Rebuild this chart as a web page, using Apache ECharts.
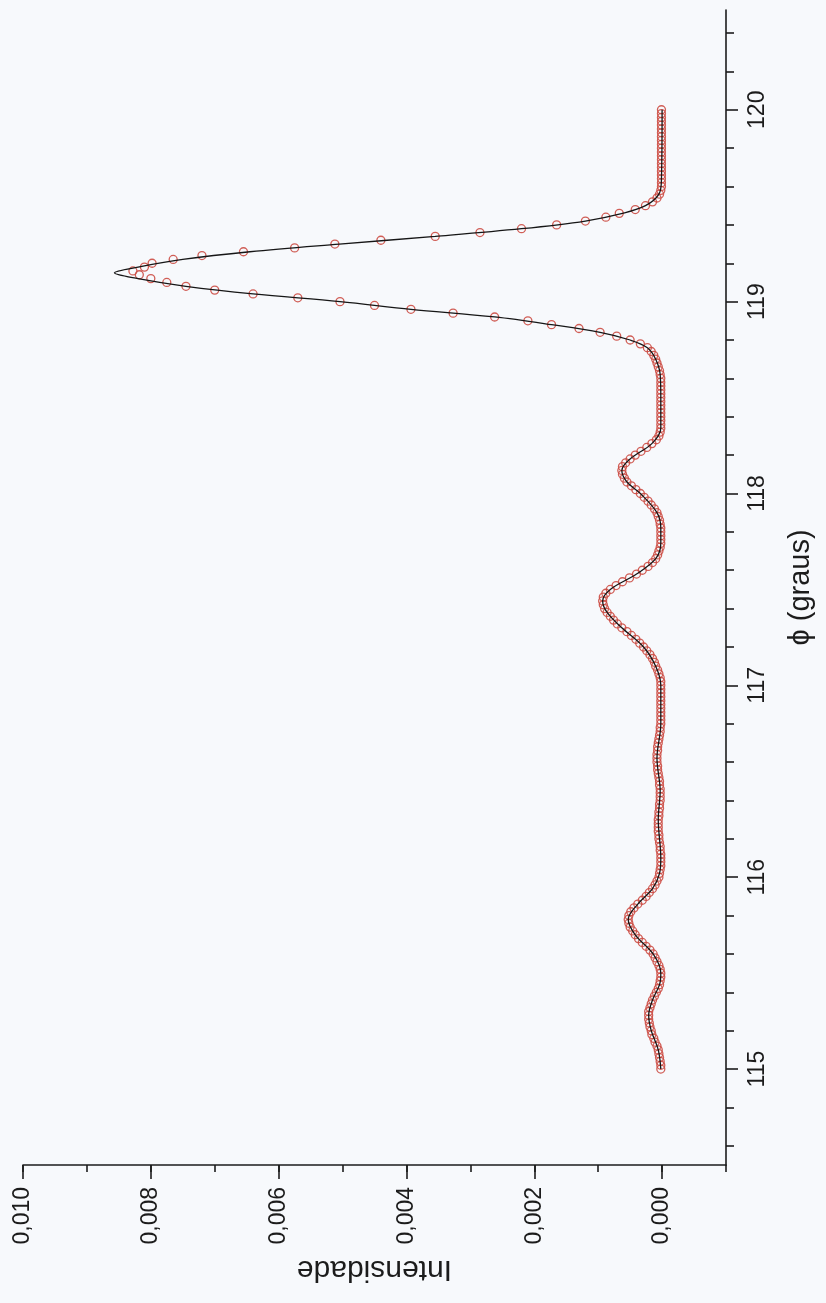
<!DOCTYPE html>
<html>
<head>
<meta charset="utf-8">
<title>Intensidade vs ϕ</title>
<script src="https://cdn.jsdelivr.net/npm/echarts@6/dist/echarts.min.js"></script>
<style>
  html, body { margin: 0; padding: 0; background: #f7f9fc; }
  #chart { width: 826px; height: 1303px; }
</style>
</head>
<body>
<div id="chart"></div>
<script>
// Measured scan: angle ϕ (graus) and intensity, intensities written in units of 1e-3
const obsPhi = [
  115.00,115.02,115.04,115.06,115.08,115.10,115.12,115.14,115.16,115.18,
  115.20,115.22,115.24,115.26,115.28,115.30,115.32,115.34,115.36,115.38,
  115.40,115.42,115.44,115.46,115.48,115.50,115.52,115.54,115.56,115.58,
  115.60,115.62,115.64,115.66,115.68,115.70,115.72,115.74,115.76,115.78,
  115.80,115.82,115.84,115.86,115.88,115.90,115.92,115.94,115.96,115.98,
  116.00,116.02,116.04,116.06,116.08,116.10,116.12,116.14,116.16,116.18,
  116.20,116.22,116.24,116.26,116.28,116.30,116.32,116.34,116.36,116.38,
  116.40,116.42,116.44,116.46,116.48,116.50,116.52,116.54,116.56,116.58,
  116.60,116.62,116.64,116.66,116.68,116.70,116.72,116.74,116.76,116.78,
  116.80,116.82,116.84,116.86,116.88,116.90,116.92,116.94,116.96,116.98,
  117.00,117.02,117.04,117.06,117.08,117.10,117.12,117.14,117.16,117.18,
  117.20,117.22,117.24,117.26,117.28,117.30,117.32,117.34,117.36,117.38,
  117.40,117.42,117.44,117.46,117.48,117.50,117.52,117.54,117.56,117.58,
  117.60,117.62,117.64,117.66,117.68,117.70,117.72,117.74,117.76,117.78,
  117.80,117.82,117.84,117.86,117.88,117.90,117.92,117.94,117.96,117.98,
  118.00,118.02,118.04,118.06,118.08,118.10,118.12,118.14,118.16,118.18,
  118.20,118.22,118.24,118.26,118.28,118.30,118.32,118.34,118.36,118.38,
  118.40,118.42,118.44,118.46,118.48,118.50,118.52,118.54,118.56,118.58,
  118.60,118.62,118.64,118.66,118.68,118.70,118.72,118.74,118.76,118.78,
  118.80,118.82,118.84,118.86,118.88,118.90,118.92,118.94,118.96,118.98,
  119.00,119.02,119.04,119.06,119.08,119.10,119.12,119.14,119.16,119.18,
  119.20,119.22,119.24,119.26,119.28,119.30,119.32,119.34,119.36,119.38,
  119.40,119.42,119.44,119.46,119.48,119.50,119.52,119.54,119.56,119.58,
  119.60,119.62,119.64,119.66,119.68,119.70,119.72,119.74,119.76,119.78,
  119.80,119.82,119.84,119.86,119.88,119.90,119.92,119.94,119.96,119.98,
  120.00
];
const obsIntensityE3 = [
  0.02,0.02,0.03,0.04,0.05,0.06,0.08,0.11,0.13,0.16,
  0.17,0.19,0.20,0.21,0.21,0.21,0.19,0.17,0.15,0.12,
  0.09,0.06,0.04,0.03,0.02,0.02,0.03,0.05,0.08,0.11,
  0.14,0.19,0.25,0.31,0.37,0.42,0.46,0.50,0.52,0.53,
  0.52,0.49,0.44,0.38,0.31,0.25,0.20,0.15,0.11,0.08,
  0.05,0.04,0.03,0.02,0.02,0.02,0.02,0.03,0.03,0.04,
  0.05,0.05,0.06,0.06,0.06,0.06,0.05,0.05,0.04,0.04,
  0.03,0.03,0.03,0.03,0.04,0.04,0.05,0.06,0.07,0.07,
  0.08,0.08,0.08,0.07,0.07,0.06,0.05,0.04,0.03,0.03,
  0.02,0.02,0.02,0.02,0.02,0.02,0.02,0.02,0.02,0.02,
  0.02,0.02,0.03,0.05,0.07,0.10,0.12,0.15,0.19,0.24,
  0.29,0.35,0.41,0.48,0.55,0.63,0.70,0.76,0.81,0.86,
  0.90,0.92,0.93,0.92,0.88,0.81,0.72,0.62,0.51,0.40,
  0.31,0.22,0.15,0.10,0.07,0.05,0.03,0.02,0.02,0.02,
  0.02,0.02,0.03,0.04,0.06,0.08,0.12,0.17,0.22,0.28,
  0.34,0.41,0.48,0.55,0.59,0.62,0.63,0.62,0.57,0.50,
  0.42,0.33,0.24,0.16,0.09,0.05,0.03,0.02,0.02,0.02,
  0.02,0.02,0.02,0.02,0.02,0.02,0.02,0.02,0.02,0.02,
  0.02,0.03,0.04,0.06,0.08,0.10,0.13,0.17,0.23,0.34,
  0.50,0.71,0.97,1.30,1.73,2.10,2.62,3.27,3.93,4.50,
  5.04,5.70,6.40,7.00,7.45,7.75,8.00,8.18,8.28,8.10,
  7.98,7.65,7.20,6.55,5.75,5.12,4.40,3.55,2.85,2.20,
  1.65,1.20,0.88,0.67,0.42,0.26,0.15,0.08,0.04,0.02,
  0.01,0.01,0.01,0.01,0.01,0.01,0.01,0.01,0.01,0.01,
  0.01,0.01,0.01,0.01,0.01,0.01,0.01,0.01,0.01,0.01,
  0.01
];

// Fitted curve (ϕ, intensity in units of 1e-3)
const fitPhi = [
  115.00,115.10,115.20,115.28,115.36,115.44,115.50,115.60,115.70,115.78,
  115.86,115.94,116.02,116.10,116.30,116.45,116.62,116.80,117.00,117.10,
  117.20,117.30,117.38,117.44,117.50,117.58,117.66,117.74,117.82,117.90,
  118.00,118.06,118.12,118.18,118.26,118.34,118.50,118.62,118.70,118.76,
  118.80,118.84,118.88,118.92,118.96,119.00,119.04,119.08,119.12,119.15,
  119.18,119.22,119.26,119.30,119.34,119.38,119.42,119.46,119.50,119.56,
  119.64,120.00
];
const fitIntensityE3 = [
  0.02,0.06,0.17,0.21,0.15,0.04,0.02,0.14,0.42,0.53,
  0.38,0.15,0.04,0.02,0.06,0.03,0.08,0.02,0.02,0.10,
  0.29,0.63,0.86,0.93,0.81,0.40,0.10,0.02,0.02,0.08,
  0.34,0.55,0.63,0.50,0.16,0.02,0.02,0.03,0.10,0.23,
  0.50,0.97,1.73,2.62,3.93,5.04,6.40,7.45,8.20,8.57,
  8.20,7.50,6.45,5.05,3.55,2.20,1.20,0.62,0.26,0.05,
  0.01,0.00
];

// Axis ticks
const intensityTickLabels = [0, 0.002, 0.004, 0.006, 0.008, 0.010];
const phiTickLabels = [115, 116, 117, 118, 119, 120];
const phiMinorTicks = [];
for (let v = 114.6; v < 120.45; v += 0.2) {
  const r = Math.round(v * 10) / 10;
  if (Math.abs(r - Math.round(r)) > 1e-6) phiMinorTicks.push(r);
}

const E3 = 1e-3;
const obsData = obsPhi.map((p, i) => [obsIntensityE3[i] * E3, p]);
const fitData = fitPhi.map((p, i) => [fitIntensityE3[i] * E3, p]);

const FONT = '"Liberation Sans", Arial, sans-serif';
const INK = '#1c1c1c';
const fmtIntensity = v => Number(v).toFixed(3).replace('.', ',');

const chart = echarts.init(document.getElementById('chart'), null, { renderer: 'canvas' });
chart.setOption({
  backgroundColor: '#f7f9fc',
  animation: false,
  grid: { left: 23, right: 100, top: 10, bottom: 138, containLabel: false, outerBoundsMode: 'none' },
  xAxis: [
    {
      type: 'value', min: -0.001, max: 0.010, interval: 0.001, inverse: true,
      position: 'bottom', offset: 0,
      axisLine: { show: true, onZero: false, lineStyle: { color: INK, width: 1.6 } },
      axisTick: { show: true, inside: false, length: 7, lineStyle: { color: INK, width: 1.6 } },
      axisLabel: { show: false },
      splitLine: { show: false },
      name: 'Intensidade', nameLocation: 'middle', nameGap: 89, nameRotate: 180,
      nameTextStyle: { fontFamily: FONT, fontSize: 30, color: INK }
    },
    {
      type: 'value', min: -0.001, max: 0.010, inverse: true,
      position: 'bottom', offset: 0,
      axisLine: { show: false, onZero: false },
      axisTick: { show: true, inside: false, length: 14, customValues: intensityTickLabels,
                  lineStyle: { color: INK, width: 1.6 } },
      axisLabel: { show: true, rotate: 90, margin: 22, customValues: intensityTickLabels,
                   formatter: fmtIntensity, fontFamily: FONT, fontSize: 23, color: INK },
      splitLine: { show: false }
    }
  ],
  yAxis: [
    {
      type: 'value', min: 114.5, max: 120.52, position: 'right', offset: 0,
      axisLine: { show: true, onZero: false, lineStyle: { color: INK, width: 1.6 } },
      axisTick: { show: true, inside: false, length: 8, customValues: phiMinorTicks,
                  lineStyle: { color: INK, width: 1.6 } },
      axisLabel: { show: false },
      splitLine: { show: false },
      name: 'ϕ (graus)', nameLocation: 'middle', nameGap: 60, nameRotate: 90,
      nameTextStyle: { fontFamily: FONT, fontSize: 29, color: INK }
    },
    {
      type: 'value', min: 114.5, max: 120.52, position: 'right', offset: 0,
      axisLine: { show: false, onZero: false },
      axisTick: { show: true, inside: false, length: 12, customValues: phiTickLabels,
                  lineStyle: { color: INK, width: 1.6 } },
      axisLabel: { show: true, rotate: 90, margin: 20, customValues: phiTickLabels,
                   fontFamily: FONT, fontSize: 23, color: INK },
      splitLine: { show: false }
    }
  ],
  series: [
    {
      name: 'medido', type: 'scatter', xAxisIndex: 0, yAxisIndex: 0,
      data: obsData, symbol: 'circle', symbolSize: 8,
      itemStyle: { color: 'rgba(255,255,255,0)', borderColor: '#cc4c44', borderWidth: 1.3, opacity: 0.9 },
      z: 2
    },
    {
      name: 'ajuste', type: 'line', xAxisIndex: 0, yAxisIndex: 0,
      data: fitData, showSymbol: false, smooth: 0.35,
      lineStyle: { color: '#161616', width: 1.3 },
      z: 3
    }
  ]
});
</script>
</body>
</html>
